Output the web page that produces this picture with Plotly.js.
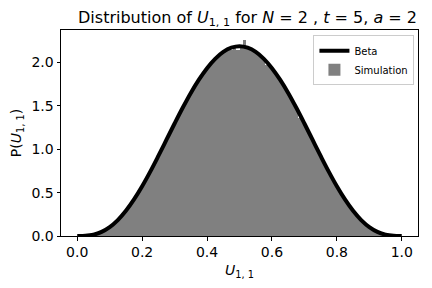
<!DOCTYPE html>
<html>
<head>
<meta charset="utf-8">
<script src="https://cdn.plot.ly/plotly-3.0.1.min.js"></script>
<style>html,body{margin:0;padding:0;background:#fff;}#chart{width:432px;height:288px;}</style>
</head>
<body>
<div id="chart"></div>
<script>
// Simulation histogram: bin centres and heights
const binCenters = [
0.005,0.015,0.025,0.035,0.045,0.055,0.065,0.075,0.085,0.095,
0.105,0.115,0.125,0.135,0.145,0.155,0.165,0.175,0.185,0.195,
0.205,0.215,0.225,0.235,0.245,0.255,0.265,0.275,0.285,0.295,
0.305,0.315,0.325,0.335,0.345,0.355,0.365,0.375,0.385,0.395,
0.405,0.415,0.425,0.435,0.445,0.455,0.465,0.475,0.485,0.495,
0.505,0.515,0.525,0.535,0.545,0.555,0.565,0.575,0.585,0.595,
0.605,0.615,0.625,0.635,0.645,0.655,0.665,0.675,0.685,0.695,
0.705,0.715,0.725,0.735,0.745,0.755,0.765,0.775,0.785,0.795,
0.805,0.815,0.825,0.835,0.845,0.855,0.865,0.875,0.885,0.895,
0.905,0.915,0.925,0.935,0.945,0.955,0.965,0.975,0.985,0.995];
const simHeights = [
0.00,0.00,0.00,0.01,0.01,0.02,0.03,0.05,0.07,0.09,
0.12,0.15,0.18,0.22,0.27,0.31,0.37,0.42,0.48,0.54,
0.61,0.67,0.74,0.80,0.89,0.96,1.03,1.11,1.18,1.26,
1.33,1.41,1.48,1.55,1.62,1.68,1.74,1.80,1.86,1.90,
1.96,2.00,2.04,2.08,2.11,2.13,2.16,2.14,2.18,2.15,
2.19,2.26,2.17,2.16,2.13,2.11,2.08,2.03,1.97,1.95,
1.91,1.86,1.80,1.74,1.68,1.62,1.55,1.48,1.36,1.33,
1.26,1.18,1.11,1.03,0.96,0.89,0.81,0.74,0.67,0.61,
0.54,0.48,0.42,0.37,0.31,0.27,0.22,0.18,0.15,0.12,
0.09,0.07,0.05,0.03,0.02,0.01,0.01,0.00,0.00,0.00];

// Beta curve points
const betaX = [0,0.025,0.05,0.075,0.1,0.125,0.15,0.175,0.2,0.225,0.25,0.275,0.3,0.325,0.35,0.375,0.4,0.425,0.45,0.475,0.5,
0.525,0.55,0.575,0.6,0.625,0.65,0.675,0.7,0.725,0.75,0.775,0.8,0.825,0.85,0.875,0.9,0.925,0.95,0.975,1.0];
const betaY = [0,0.002,0.015,0.047,0.102,0.183,0.290,0.421,0.573,0.742,0.923,1.110,1.297,1.478,1.649,1.802,1.935,2.043,2.123,2.171,2.188,
2.171,2.123,2.043,1.935,1.802,1.649,1.478,1.297,1.110,0.923,0.742,0.573,0.421,0.290,0.183,0.102,0.047,0.015,0.002,0];

const xTicks = [0.0,0.2,0.4,0.6,0.8,1.0];
const xTickLabels = ['0.0','0.2','0.4','0.6','0.8','1.0'];
const yTicks = [0.0,0.5,1.0,1.5,2.0];
const yTickLabels = ['0.0','0.5','1.0','1.5','2.0'];

const font = 'DejaVu Sans, sans-serif';

const traces = [
  {type:'bar', x:binCenters, y:simHeights, width:0.01, name:'Simulation',
   marker:{color:'#808080', line:{width:0}}},
  {type:'scatter', mode:'lines', x:betaX, y:betaY, name:'Beta',
   line:{color:'#000000', width:4, shape:'spline', smoothing:1}}
];

const axisCommon = {
  showgrid:false, zeroline:false, showline:true, linecolor:'#000', linewidth:1,
  mirror:true, ticks:'outside', ticklen:3.5, tickwidth:1, tickcolor:'#000',
  tickfont:{family:font, size:14, color:'#000'}
};

const layout = {
  width:432, height:288,
  margin:{l:61, r:14, t:30, b:52, pad:0},
  paper_bgcolor:'#fff', plot_bgcolor:'#fff',
  bargap:0,
  title:{text:'Distribution of <i>U</i><sub>1, 1</sub> for <i>N</i> = 2 , <i>t</i> = 5, <i>a</i> = 2',
         font:{family:font, size:16, color:'#000'}, x:0.573, xanchor:'center', y:0.94, yanchor:'middle'},
  xaxis:Object.assign({}, axisCommon, {range:[-0.05,1.05], tickvals:xTicks, ticktext:xTickLabels,
         title:{text:'<i>U</i><sub>1, 1</sub>', font:{family:font, size:14, color:'#000'}, standoff:5}}),
  yaxis:Object.assign({}, axisCommon, {range:[0,2.375], tickvals:yTicks, ticktext:yTickLabels,
         title:{text:'P(<i>U</i><sub>1, 1</sub>)', font:{family:font, size:14, color:'#000'}, standoff:6}}),
  legend:{x:0.99, xanchor:'right', y:0.975, yanchor:'top', bgcolor:'rgba(255,255,255,0.8)',
          bordercolor:'#cccccc', borderwidth:1, font:{family:font, size:10, color:'#000'},
          traceorder:'reversed', itemwidth:30, tracegroupgap:0},
  showlegend:true
};

Plotly.newPlot('chart', traces, layout, {displayModeBar:false, staticPlot:true});
</script>
</body>
</html>
